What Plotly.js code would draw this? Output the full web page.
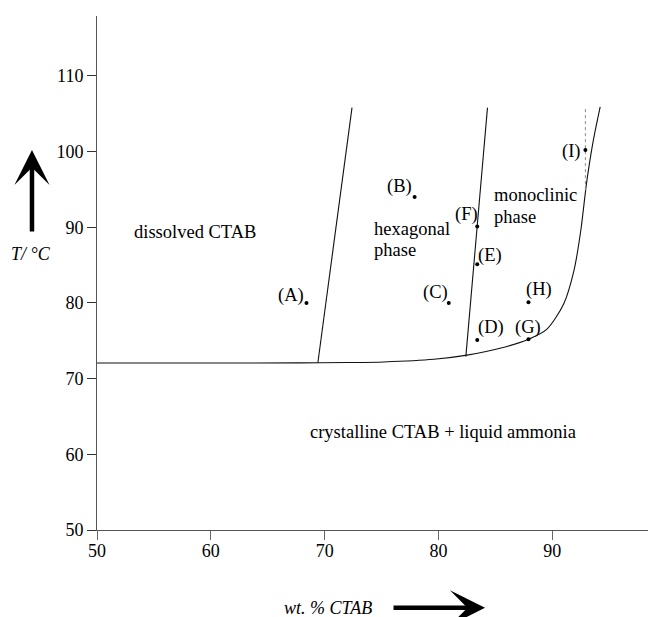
<!DOCTYPE html>
<html>
<head>
<meta charset="utf-8">
<script src="https://cdn.plot.ly/plotly-3.0.1.min.js"></script>
<style>html,body{margin:0;padding:0;background:#fff}#chart{width:648px;height:617px}</style>
</head>
<body>
<div id="chart"></div>
<script>
// --- data ---
const xTicks = [50, 60, 70, 80, 90];
const yTicks = [50, 60, 70, 80, 90, 100, 110];

// solubility curve (lower boundary / right boundary)
const curveX = [50, 60, 67.8, 72, 75.2, 79.6, 82.5, 85.4, 87.9, 89.5, 91.0, 91.9, 92.5, 93.0, 93.6, 94.2];
const curveY = [72.06, 72.06, 72.08, 72.12, 72.2, 72.55, 73.1, 74.0, 75.2, 76.5, 79.9, 84.3, 89.6, 95.8, 101.5, 105.9];

// boundary dissolved / hexagonal
const bound1X = [69.4, 72.4];
const bound1Y = [72.1, 105.8];
// boundary hexagonal / monoclinic
const bound2X = [82.4, 84.3];
const bound2Y = [72.9, 105.8];
// dotted vertical line
const dottedX = [92.9, 92.9];
const dottedY = [94.9, 105.9];

// measured samples
const ptLabels = ["(A)", "(B)", "(C)", "(D)", "(E)", "(F)", "(G)", "(H)", "(I)"];
const ptX = [68.4, 77.9, 80.9, 83.4, 83.4, 83.4, 87.9, 87.9, 92.9];
const ptY = [80.0, 94.0, 80.0, 75.1, 85.1, 90.1, 75.2, 80.1, 100.2];

// region labels
const regionText = ["dissolved CTAB", "hexagonal", "phase", "monoclinic", "phase", "crystalline CTAB + liquid ammonia"];
const regionX = [53.05, 74.18, 74.18, 84.7, 84.7, 68.55];
const regionY = [89.4, 89.7, 87.05, 94.29, 91.3, 62.97];

// --- label offsets (pixels) ---
const labelDx = [-15, -15, -13, 14, 13, -11, 0, 11, -14];
const labelDy = [7, 10, 10, 12, 9, 12, 12, 13, -1.5];

const FONT = '"Liberation Serif", "Times New Roman", Times, serif';

const traces = [
  {x: curveX, y: curveY, mode: "lines", line: {color: "#111", width: 1.1, shape: "spline", smoothing: 0.8}, hoverinfo: "skip"},
  {x: bound1X, y: bound1Y, mode: "lines", line: {color: "#111", width: 1.1}, hoverinfo: "skip"},
  {x: bound2X, y: bound2Y, mode: "lines", line: {color: "#111", width: 1.1}, hoverinfo: "skip"},
  {x: dottedX, y: dottedY, mode: "lines", line: {color: "#888", width: 1, dash: "dot"}, hoverinfo: "skip"},
  {x: ptX, y: ptY, mode: "markers", marker: {color: "#000", size: 4}, hoverinfo: "skip"}
];

const annotations = [];
for (let i = 0; i < ptLabels.length; i++) {
  annotations.push({x: ptX[i], y: ptY[i], xref: "x", yref: "y", text: ptLabels[i], showarrow: false,
    xanchor: "center", yanchor: "middle", xshift: labelDx[i], yshift: labelDy[i],
    font: {family: FONT, size: 18.5, color: "#000"}});
}
for (let i = 0; i < regionText.length; i++) {
  annotations.push({x: regionX[i], y: regionY[i], xref: "x", yref: "y", text: regionText[i], showarrow: false,
    xanchor: "left", yanchor: "middle", font: {family: FONT, size: 18.5, color: "#000"}});
}
// axis titles (italic) and arrows
annotations.push({x: 0.3358, y: -0.1514, xref: "paper", yref: "paper", text: "<i>wt. % CTAB</i>", showarrow: false,
  xanchor: "left", yanchor: "middle", font: {family: FONT, size: 18, color: "#000"}});
annotations.push({x: 0.7042, y: -0.1514, xref: "paper", yref: "paper", text: "", showarrow: true,
  ax: -93, ay: 0, arrowhead: 3, arrowwidth: 4.5, arrowsize: 1.3, arrowcolor: "#000", standoff: 0});
annotations.push({x: -0.159, y: 0.537, xref: "paper", yref: "paper", text: "<i>T/ °C</i>", showarrow: false,
  xanchor: "left", yanchor: "middle", font: {family: FONT, size: 18, color: "#000"}});
annotations.push({x: -0.118, y: 0.7393, xref: "paper", yref: "paper", text: "", showarrow: true,
  ax: 0, ay: 83, arrowhead: 3, arrowwidth: 4.5, arrowsize: 1.3, arrowcolor: "#000", standoff: 0});

const layout = {
  width: 648, height: 617,
  margin: {l: 97, r: 0, t: 16, b: 87, pad: 0},
  paper_bgcolor: "#fff", plot_bgcolor: "#fff",
  showlegend: false,
  font: {family: FONT, size: 18, color: "#000"},
  xaxis: {range: [50, 98.4], tickvals: xTicks, ticktext: xTicks.map(String), showgrid: false, zeroline: false,
    showline: true, linecolor: "#555", linewidth: 1, ticks: "outside", ticklen: 9, tickcolor: "#666", tickwidth: 1,
    ticklabelstandoff: -5,
    tickfont: {family: FONT, size: 18, color: "#000"}, fixedrange: true},
  yaxis: {range: [50, 117.9], tickvals: yTicks, ticktext: yTicks.map(String), showgrid: false, zeroline: false,
    showline: true, linecolor: "#555", linewidth: 1, ticks: "outside", ticklen: 9, tickcolor: "#333", tickwidth: 1,
    tickfont: {family: FONT, size: 18, color: "#000"}, fixedrange: true},
  annotations: annotations
};

Plotly.newPlot("chart", traces, layout, {staticPlot: true, displayModeBar: false});
</script>
</body>
</html>
